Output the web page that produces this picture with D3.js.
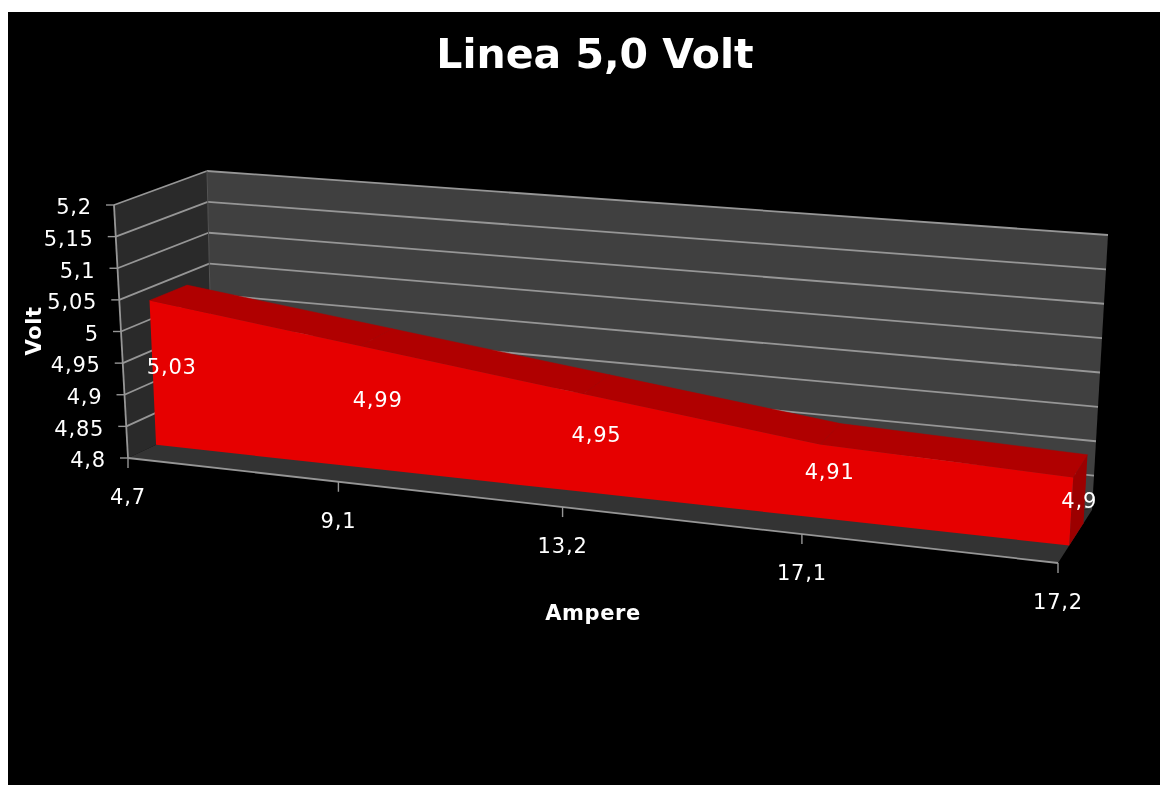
<!DOCTYPE html>
<html><head><meta charset="utf-8">
<script src="https://cdnjs.cloudflare.com/ajax/libs/d3/7.8.5/d3.min.js"></script>
<style>html,body{margin:0;padding:0;background:#fff}svg{display:block}text{font-family:"DejaVu Sans",Verdana,sans-serif}
.tl{font-size:21px;letter-spacing:.8px}
.at{font-size:21px;font-weight:bold;letter-spacing:.6px}
#c{filter:blur(.45px)}</style>
</head><body><svg id="c" width="1160" height="785"></svg>
<script>
const categories = ["4,7","9,1","13,2","17,1","17,2"];
const values = [5.03,4.99,4.95,4.91,4.9];
const valueLabels = ["5,03","4,99","4,95","4,91","4,9"];
const yTicks = [4.8,4.85,4.9,4.95,5,5.05,5.1,5.15,5.2];
const yTickLabels = ["4,8","4,85","4,9","4,95","5","5,05","5,1","5,15","5,2"];

const svg = d3.select("#c");
svg.append("rect").attr("x",8).attr("y",12).attr("width",1152).attr("height",773).attr("fill","#000");

const C = {
  b:{fl:[128,458],fr:[1058,563],bl:[213,418],br:[1092,510]},
  t:{fl:[114,205],fr:[1074,292],bl:[207,171],br:[1108,235]}
};
const k = 1.14;
const xCat = d3.scalePoint().domain(categories).range([0,1]);
const yVal = d3.scaleLinear().domain([4.8,5.2]).range([0,1]);
const mix = (a,b,t)=>[a[0]+(b[0]-a[0])*t,a[1]+(b[1]-a[1])*t];
const warp = u=>u/(u+k*(1-u));
function P(u,v,z){
  const w = warp(u);
  const bot = mix(mix(C.b.fl,C.b.fr,w),mix(C.b.bl,C.b.br,w),z);
  const top = mix(mix(C.t.fl,C.t.fr,w),mix(C.t.bl,C.t.br,w),z);
  return mix(bot,top,v);
}
const poly = d3.line();
const zF = 0.33, zB = 0.75;

svg.append("path").attr("d",poly([P(0,0,1),P(1,0,1),P(1,1,1),P(0,1,1)])+"Z").attr("fill","#404040");
svg.append("path").attr("d",poly([P(0,0,0),P(0,0,1),P(0,1,1),P(0,1,0)])+"Z").attr("fill","#2a2a2a");
svg.append("path").attr("d",poly([P(0,0,0),P(1,0,0),P(1,0,1),P(0,0,1)])+"Z").attr("fill","#333");

const lineCol="#969696";
const seg=(a,b,w=1.8)=>svg.append("path").attr("d",poly([a,b])).attr("stroke",lineCol).attr("stroke-width",w).attr("fill","none");
yTicks.forEach((t,i)=>{
  const v=yVal(t);
  if(i>0) seg(P(0,v,1),P(1,v,1));
  if(i>0) seg(P(0,v,0),P(0,v,1));
  const a=P(0,v,0);
  seg(a,[a[0]-8,a[1]],1.4);
  svg.append("text").attr("class","tl").attr("x",a[0]-22).attr("y",a[1]+2).attr("dy","0.35em").attr("text-anchor","end")
    .attr("fill","#fff").text(yTickLabels[i]);
});
svg.append("path").attr("d",poly([P(0,0,1),P(0,1,1)])).attr("stroke","#555").attr("fill","none");
seg(P(0,0,0),P(0,1,0));
seg(P(0,0,0),P(1,0,0));

categories.forEach(c=>{
  const a=P(xCat(c),0,0);
  seg(a,[a[0],a[1]+10],1.4);
  svg.append("text").attr("class","tl").attr("x",a[0]).attr("y",a[1]+39).attr("dy","0.35em").attr("text-anchor","middle")
    .attr("fill","#fff").text(c);
});

const front = categories.map((c,i)=>P(xCat(c),yVal(values[i]),zF));
const back  = categories.map((c,i)=>P(xCat(c),yVal(values[i]),zB));
const frontBase = categories.map(c=>P(xCat(c),0,zF));
categories.slice(1).forEach((c,i)=>{
  svg.append("path").attr("d",poly([front[i],front[i+1],back[i+1],back[i]])+"Z").attr("fill","#b00000").attr("stroke","#b00000").attr("stroke-width",0.5);
});
const cl=categories[categories.length-1], vl=values[values.length-1];
svg.append("path").attr("d",poly([P(xCat(cl),0,zF),P(xCat(cl),yVal(vl),zF),P(xCat(cl),yVal(vl),zB),P(xCat(cl),0,zB)])+"Z").attr("fill","#9c0000");
svg.append("path").attr("d",poly([...front,...frontBase.slice().reverse()])+"Z").attr("fill","#e60000");

const labelDx = d3.scaleLinear().domain([0,1]).range([19,8]);
const labelDy = d3.scaleLinear().domain([0,1]).range([-6,-11]);
categories.forEach((c,i)=>{
  const f=front[i], b=frontBase[i], u=xCat(c);
  svg.append("text").attr("class","tl").attr("x",(f[0]+b[0])/2+labelDx(u)).attr("y",(f[1]+b[1])/2+labelDy(u)).attr("dy","0.35em")
    .attr("text-anchor","middle").attr("fill","#fff").text(valueLabels[i]);
});

svg.append("text").attr("x",595).attr("y",68).attr("text-anchor","middle").attr("font-size",41).attr("font-weight","bold").attr("fill","#fff").text("Linea 5,0 Volt");
svg.append("text").attr("class","at").attr("x",593).attr("y",620).attr("text-anchor","middle").attr("fill","#fff").text("Ampere");
svg.append("text").attr("class","at").attr("transform","translate(41,331) rotate(-90)").attr("text-anchor","middle").attr("fill","#fff").text("Volt");
</script></body></html>
